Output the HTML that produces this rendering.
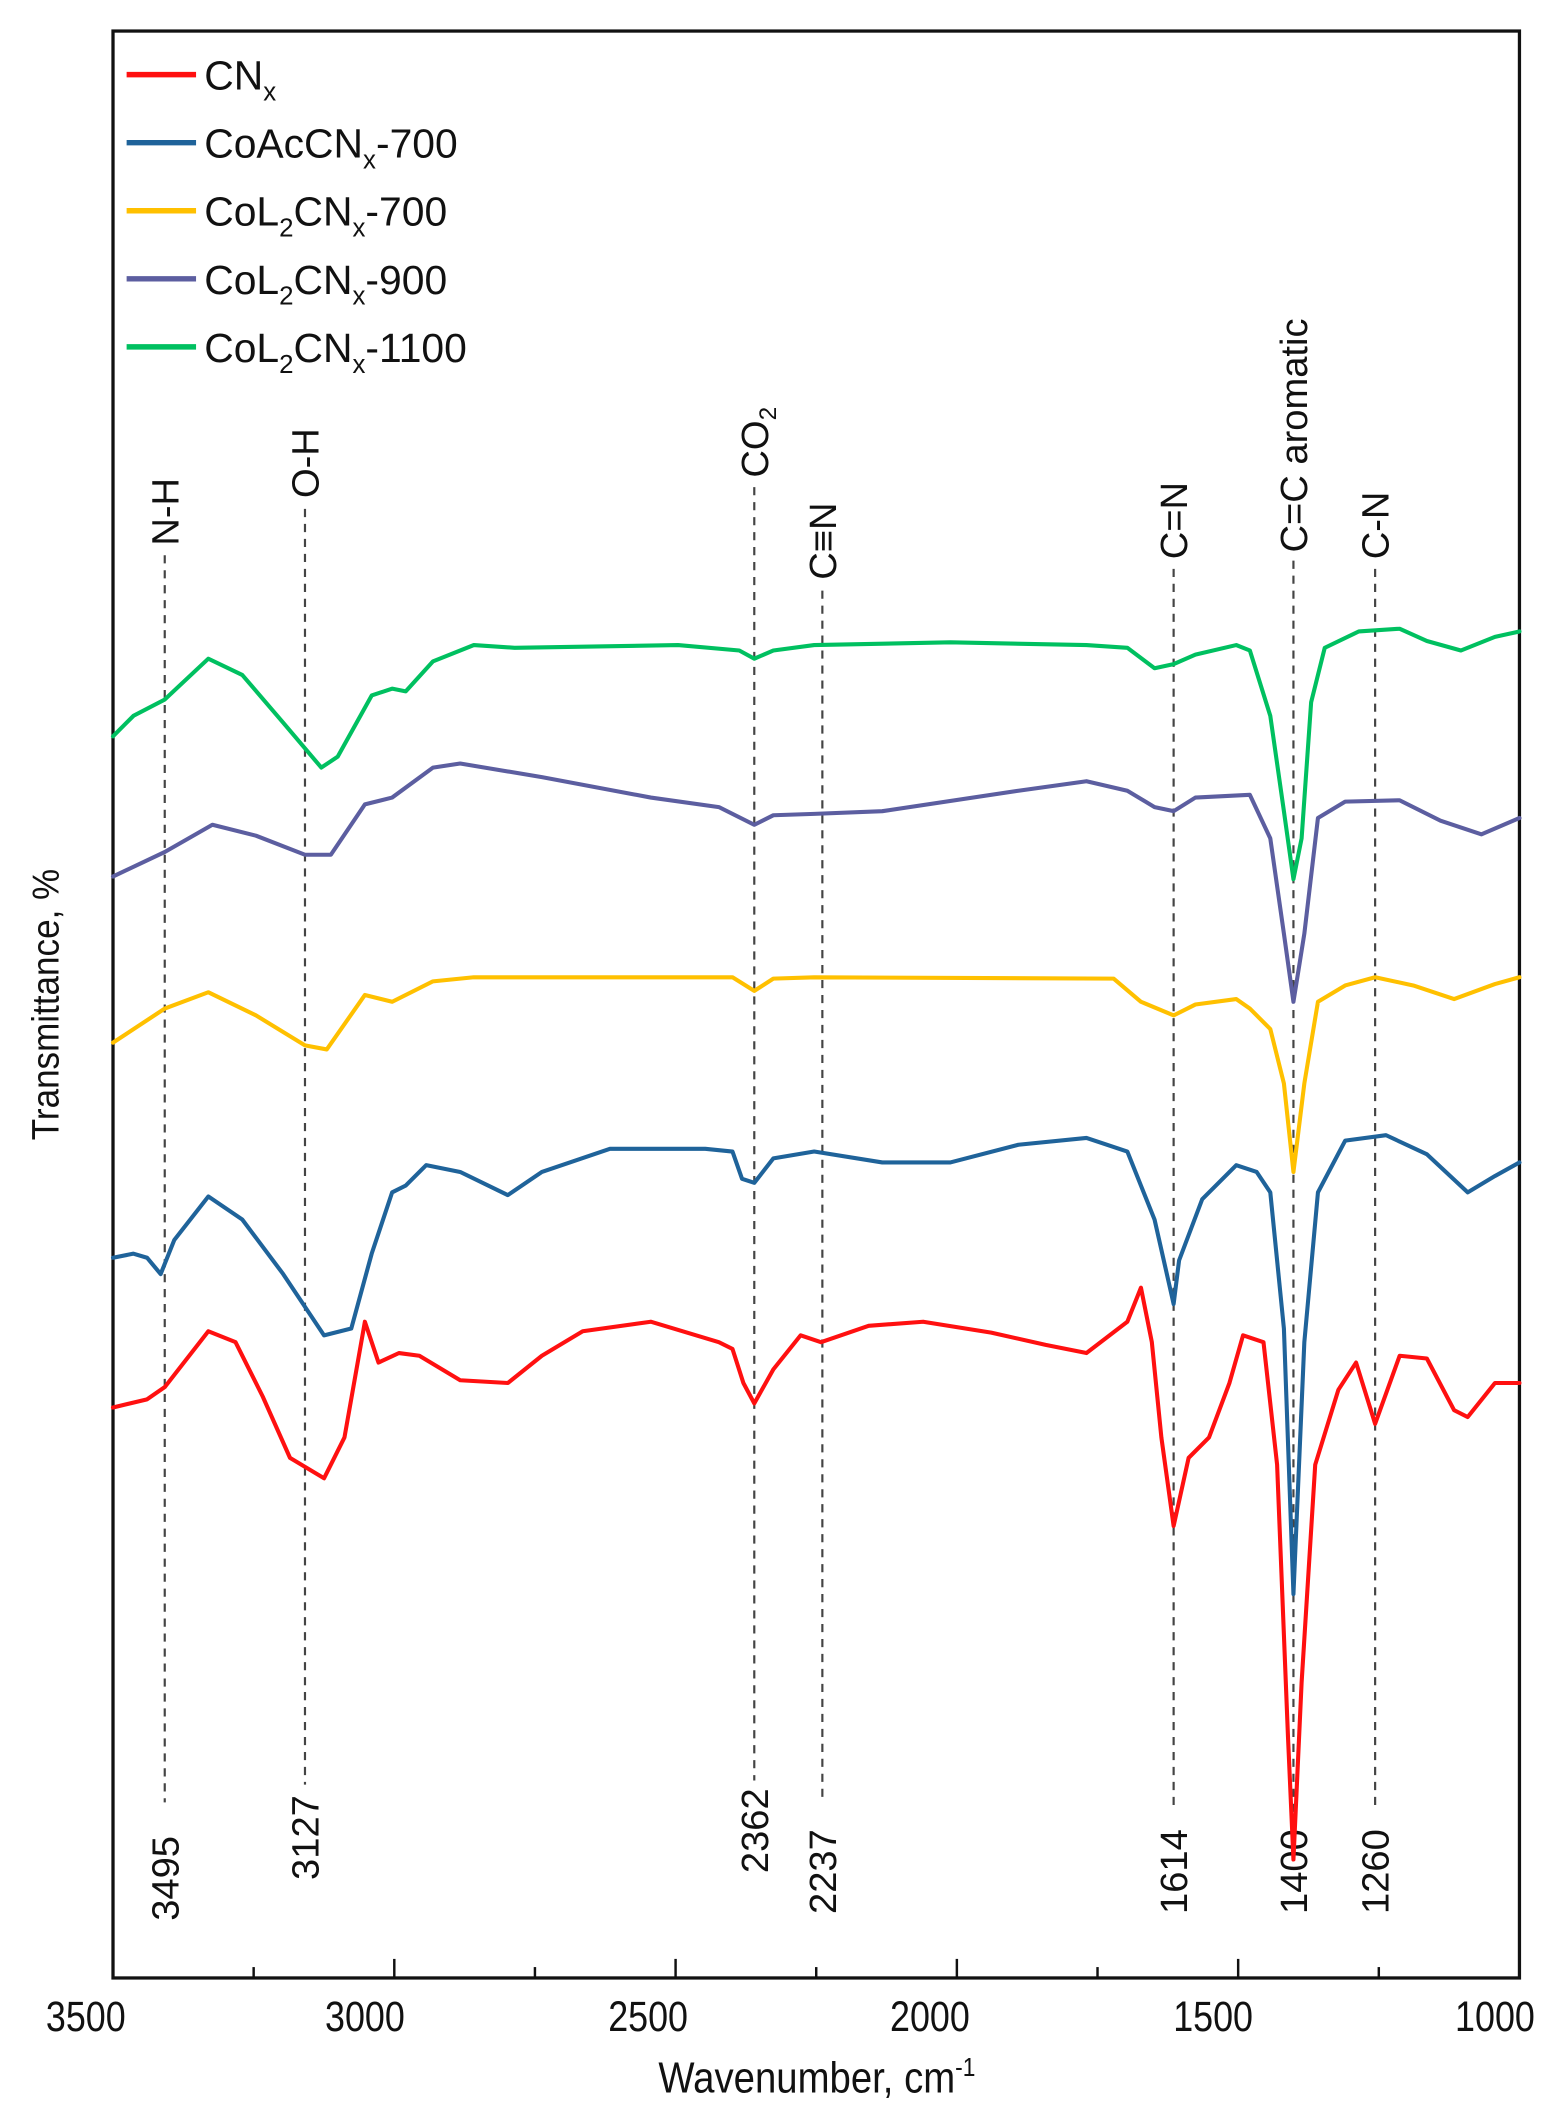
<!DOCTYPE html>
<html><head><meta charset="utf-8"><style>
html,body{margin:0;padding:0;background:#fff;}
svg{display:block;}
text{font-family:"Liberation Sans",sans-serif;fill:#111;}
</style></head><body>
<svg width="1546" height="2128" viewBox="2 4.2 1135.5 1563" preserveAspectRatio="none" xmlns="http://www.w3.org/2000/svg">
<rect x="2" y="4.2" width="1135.5" height="1563" fill="#fff"/>
<rect x="85" y="27" width="1033" height="1430" fill="none" stroke="#111" stroke-width="2.4"/>
<g stroke="#111" stroke-width="1.8">
<line x1="291.6" y1="1457" x2="291.6" y2="1443"/>
<line x1="498.2" y1="1457" x2="498.2" y2="1443"/>
<line x1="704.8" y1="1457" x2="704.8" y2="1443"/>
<line x1="911.4" y1="1457" x2="911.4" y2="1443"/>
<line x1="188.3" y1="1457" x2="188.3" y2="1449"/>
<line x1="394.9" y1="1457" x2="394.9" y2="1449"/>
<line x1="601.5" y1="1457" x2="601.5" y2="1449"/>
<line x1="808.1" y1="1457" x2="808.1" y2="1449"/>
<line x1="1014.7" y1="1457" x2="1014.7" y2="1449"/>
</g>
<g font-size="31" text-anchor="middle">
<text transform="translate(65,1496) scale(0.85,1)">3500</text>
<text transform="translate(270,1496) scale(0.85,1)">3000</text>
<text transform="translate(478,1496) scale(0.85,1)">2500</text>
<text transform="translate(685,1496) scale(0.85,1)">2000</text>
<text transform="translate(893,1496) scale(0.85,1)">1500</text>
<text transform="translate(1100,1496) scale(0.85,1)">1000</text>
</g>
<text transform="translate(602,1541) scale(0.88,1)" font-size="32" text-anchor="middle">Wavenumber, cm<tspan dy="-12" font-size="19">-1</tspan></text>
<text transform="translate(45,742) rotate(-90) scale(0.92,1)" font-size="28" text-anchor="middle">Transmittance, %</text>
<g stroke="#444" stroke-width="1.6" stroke-dasharray="6,5">
<line x1="123" y1="412" x2="123" y2="1328"/>
<line x1="226" y1="378" x2="226" y2="1315"/>
<line x1="556" y1="362" x2="556" y2="1312"/>
<line x1="606" y1="438" x2="606" y2="1326"/>
<line x1="864" y1="422" x2="864" y2="1330"/>
<line x1="952" y1="416" x2="952" y2="1338"/>
<line x1="1012" y1="422" x2="1012" y2="1332"/>
</g>
<g font-size="28" text-anchor="start">
<text transform="translate(133,405) rotate(-90)">N-H</text>
<text transform="translate(236,370) rotate(-90)">O-H</text>
<text transform="translate(566,355) rotate(-90)">CO<tspan font-size="18" dy="6">2</tspan></text>
<text transform="translate(616,430) rotate(-90)">C≡N</text>
<text transform="translate(874,415) rotate(-90)">C=N</text>
<text transform="translate(962,410) rotate(-90)">C=C aromatic</text>
<text transform="translate(1022,415) rotate(-90)">C-N</text>
<text transform="translate(133,1415) rotate(-90)">3495</text>
<text transform="translate(236,1385) rotate(-90)">3127</text>
<text transform="translate(566,1380) rotate(-90)">2362</text>
<text transform="translate(616,1410) rotate(-90)">2237</text>
<text transform="translate(874,1410) rotate(-90)">1614</text>
<text transform="translate(962,1410) rotate(-90)">1400</text>
<text transform="translate(1022,1410) rotate(-90)">1260</text>
</g>
<g fill="none" stroke-width="3" stroke-linejoin="round" stroke-linecap="round">
<polyline stroke="#00c060" points="85,545 100,530 123,518 155,488 180,500 210,535 238,568 250,560 275,515 290,510 300,512 320,490 350,478 380,480 500,478 545,482 556,488 570,482 600,478 700,476 800,478 830,480 850,495 864,492 880,485 910,478 920,482 935,530 945,600 952,650 958,620 965,520 975,480 1000,468 1030,466 1050,475 1075,482 1100,472 1118,468"/>
<polyline stroke="#5c5ea0" points="85,648 123,630 158,610 190,618 226,632 245,632 270,595 290,590 320,568 340,565 400,575 480,590 530,597 556,610 570,603 600,602 650,600 750,585 800,578 830,585 850,597 864,600 880,590 920,588 935,620 945,690 952,740 960,690 970,605 990,593 1030,592 1060,607 1090,617 1118,605"/>
<polyline stroke="#ffc000" points="85,770 123,745 155,733 190,750 226,772 242,775 270,735 290,740 320,725 350,722 540,722 556,732 570,723 600,722 820,723 840,740 864,750 880,742 910,738 920,745 935,760 945,800 952,865 960,800 970,740 990,728 1012,722 1040,728 1070,738 1100,727 1118,722"/>
<polyline stroke="#1f639a" points="85,928 100,925 110,928 120,940 130,915 155,883 180,900 210,940 240,985 260,980 275,925 290,880 300,875 315,860 340,865 375,882 400,865 450,848 520,848 540,850 547,870 556,873 570,855 600,850 650,858 700,858 750,845 800,840 830,850 850,900 864,962 868,930 885,885 910,860 925,865 935,880 945,980 952,1175 960,990 970,880 990,842 1020,838 1050,852 1080,880 1100,868 1118,858"/>
<polyline stroke="#ff1010" points="85,1038 110,1032 123,1023 155,982 175,990 195,1030 215,1075 240,1090 255,1060 270,975 280,1005 295,998 310,1000 340,1018 375,1020 400,1000 430,982 480,975 530,990 540,995 548,1020 556,1035 570,1010 590,985 605,990 640,978 680,975 730,983 770,992 800,998 830,975 840,950 848,990 855,1060 864,1125 875,1075 890,1060 905,1020 915,985 930,990 940,1080 948,1280 952,1370 958,1240 968,1080 985,1025 998,1005 1012,1050 1030,1000 1050,1002 1070,1040 1080,1045 1100,1020 1118,1020"/>
</g>
<g stroke-width="4">
<line x1="95" y1="59" x2="146" y2="59" stroke="#ff1010"/>
<line x1="95" y1="109" x2="146" y2="109" stroke="#1f639a"/>
<line x1="95" y1="159" x2="146" y2="159" stroke="#ffc000"/>
<line x1="95" y1="209" x2="146" y2="209" stroke="#5c5ea0"/>
<line x1="95" y1="259" x2="146" y2="259" stroke="#00c060"/>
</g>
<g font-size="30">
<text x="152" y="70">CN<tspan font-size="19" dy="8">x</tspan></text>
<text x="152" y="120">CoAcCN<tspan font-size="19" dy="8">x</tspan><tspan dy="-8">-700</tspan></text>
<text x="152" y="170">CoL<tspan font-size="19" dy="8">2</tspan><tspan dy="-8">CN</tspan><tspan font-size="19" dy="8">x</tspan><tspan dy="-8">-700</tspan></text>
<text x="152" y="220">CoL<tspan font-size="19" dy="8">2</tspan><tspan dy="-8">CN</tspan><tspan font-size="19" dy="8">x</tspan><tspan dy="-8">-900</tspan></text>
<text x="152" y="270">CoL<tspan font-size="19" dy="8">2</tspan><tspan dy="-8">CN</tspan><tspan font-size="19" dy="8">x</tspan><tspan dy="-8">-1100</tspan></text>
</g>
</svg>
</body></html>
